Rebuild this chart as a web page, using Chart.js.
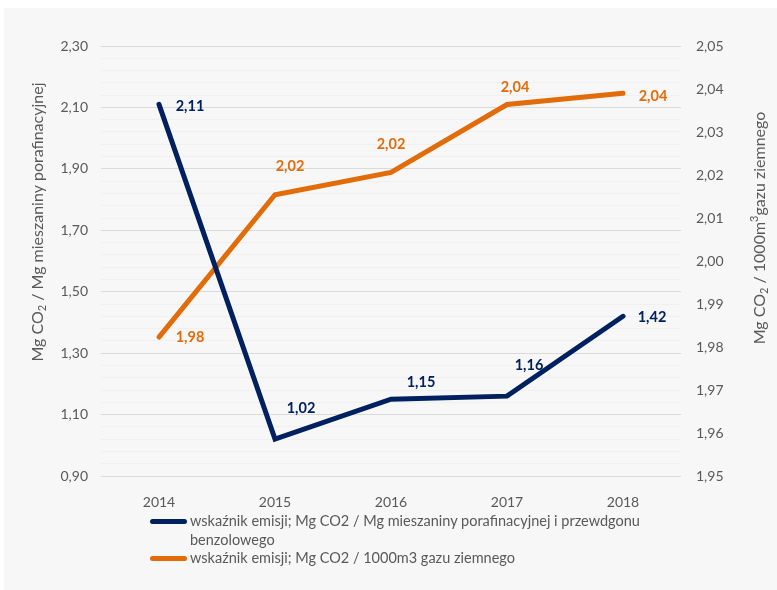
<!DOCTYPE html>
<html lang="pl">
<head>
<meta charset="utf-8">
<script src="https://cdn.jsdelivr.net/npm/chart.js@4.4.1/dist/chart.umd.min.js"></script>
<style>
  body { margin: 0; background: #fff; }
  #wrap { position: relative; width: 777px; height: 590px; overflow: hidden; }
  #panel { position: absolute; left: 4px; top: 8px; right: 0; bottom: 0; background: #f7f7f7; }
  #chart { position: absolute; left: 0; top: 0; }
  .legend { position: absolute; left: 150px; font: 14.5px Lato, sans-serif; color: #595959; line-height: 18.5px; }
  .legend .row { position: relative; padding-left: 40px; width: 470px; }
  .legend .key { position: absolute; left: 0; top: 7px; width: 37px; height: 5px; border-radius: 3px; }
</style>
</head>
<body>
<div id="wrap">
  <div id="panel"></div>
  <canvas id="chart" width="777" height="590"></canvas>
  <div class="legend" style="top:512px">
    <div class="row"><span class="key" style="background:#002060"></span>wskaźnik emisji; Mg CO2 / Mg mieszaniny porafinacyjnej i przewdgonu benzolowego</div>
    <div class="row"><span class="key" style="background:#e36c0a"></span>wskaźnik emisji; Mg CO2 / 1000m3 gazu ziemnego</div>
  </div>
</div>
<script>
// lata i wartości wskaźników
const years = ['2014', '2015', '2016', '2017', '2018'];
const mieszanina = [2.11, 1.02, 1.15, 1.16, 1.42];
const gaz = [1.9823, 2.0154, 2.0206, 2.0364, 2.0390];
const seriesNames = [
    'wskaźnik emisji; Mg CO2 / Mg mieszaniny porafinacyjnej i przewdgonu benzolowego',
    'wskaźnik emisji; Mg CO2 / 1000m3 gazu ziemnego'
];

const BLUE = '#002060';
const ORANGE = '#e36c0a';
const GREY_TXT = '#595959';

// przesunięcia etykiet wartości względem punktów (środek tekstu)
const labelShift = [
    [[31, 2], [26, -31], [30, -17], [22, -31], [29, 1]],
    [[31, 0], [15, -28], [0, -28], [8, -17], [30, 3]]
];

const fmt = (v, d) => v.toFixed(d).replace('.', ',');

// etykiety wartości przy punktach
const valueLabels = {
    id: 'valueLabels',
    afterDatasetsDraw(chart) {
        const ctx = chart.ctx;
        ctx.save();
        ctx.font = 'bold 14.5px Lato, sans-serif';
        ctx.textAlign = 'center';
        ctx.textBaseline = 'middle';
        chart.data.datasets.forEach((ds, di) => {
            const meta = chart.getDatasetMeta(di);
            ctx.fillStyle = ds.borderColor;
            meta.data.forEach((pt, i) => {
                const [dx, dy] = labelShift[di][i];
                ctx.fillText(fmt(ds.data[i], 2), pt.x + dx, pt.y + dy);
            });
        });
        ctx.restore();
    }
};

// tytuły osi z indeksem dolnym / górnym
function drawRich(ctx, parts, cx, cy, size) {
    const base = size + 'px Lato, sans-serif';
    const small = Math.round(size * 0.7) + 'px Lato, sans-serif';
    let w = 0;
    parts.forEach(p => { ctx.font = p.s ? small : base; w += ctx.measureText(p.t).width; });
    let x = cx - w / 2;
    parts.forEach(p => {
        ctx.font = p.s ? small : base;
        const off = p.s === 'sub' ? 4 : p.s === 'sup' ? -6 : 0;
        ctx.fillText(p.t, x, cy + off);
        x += ctx.measureText(p.t).width;
    });
}

const axisTitles = {
    id: 'axisTitles',
    afterDraw(chart) {
        const ctx = chart.ctx;
        ctx.save();
        ctx.fillStyle = GREY_TXT;
        ctx.textAlign = 'left';
        ctx.textBaseline = 'middle';
        ctx.translate(38, 222);
        ctx.rotate(-Math.PI / 2);
        drawRich(ctx, [{ t: 'Mg CO' }, { t: '2', s: 'sub' }, { t: ' / Mg mieszaniny porafinacyjnej' }], 0, 0, 16);
        ctx.restore();
        ctx.save();
        ctx.fillStyle = GREY_TXT;
        ctx.textAlign = 'left';
        ctx.textBaseline = 'middle';
        ctx.translate(760, 228);
        ctx.rotate(-Math.PI / 2);
        drawRich(ctx, [{ t: 'Mg CO' }, { t: '2', s: 'sub' }, { t: ' / 1000m' }, { t: '3', s: 'sup' }, { t: 'gazu ziemnego' }], 0, 0, 16);
        ctx.restore();
    }
};

// główne linie siatki co 0,20 od 0,90
const isMajor = v => Math.abs((v - 0.9) * 5 - Math.round((v - 0.9) * 5)) < 1e-6;

new Chart(document.getElementById('chart'), {
    type: 'line',
    data: {
        labels: years,
        datasets: [
            { label: seriesNames[0], data: mieszanina, yAxisID: 'y' },
            { label: seriesNames[1], data: gaz, yAxisID: 'y1' }
        ].map((d, i) => Object.assign(d, {
            borderColor: i ? ORANGE : BLUE,
            borderWidth: 5,
            borderCapStyle: 'round',
            borderJoinStyle: 'miter',
            pointRadius: 0,
            tension: 0
        }))
    },
    options: {
        responsive: false,
        animation: false,
        layout: { padding: { top: 46, left: 0, right: 0, bottom: 0 } },
        plugins: { legend: { display: false }, tooltip: { enabled: false } },
        scales: {
            x: {
                offset: true,
                grid: { display: false },
                border: { display: false },
                ticks: { color: GREY_TXT, font: { family: 'Lato', size: 14 }, padding: 10 },
                afterFit(s) { s.height = 114; }
            },
            y: {
                position: 'left',
                min: 0.9,
                max: 2.3,
                ticks: {
                    stepSize: 0.04,
                    autoSkip: false,
                    color: GREY_TXT,
                    font: { family: 'Lato', size: 14 },
                    padding: 13,
                    callback: v => isMajor(v) ? fmt(v, 2) : ''
                },
                grid: {
                    drawTicks: false,
                    color: c => isMajor(c.tick.value) ? '#dadada' : '#f0f0f0',
                    lineWidth: 1
                },
                border: { display: false },
                afterFit(s) { s.width = 101; }
            },
            y1: {
                position: 'right',
                min: 1.95,
                max: 2.05,
                ticks: {
                    stepSize: 0.01,
                    color: GREY_TXT,
                    font: { family: 'Lato', size: 14 },
                    padding: 15,
                    callback: v => fmt(v, 2)
                },
                grid: { display: false, drawTicks: false },
                border: { display: false },
                afterFit(s) { s.width = 96; }
            }
        }
    },
    plugins: [valueLabels, axisTitles]
});
</script>
</body>
</html>
